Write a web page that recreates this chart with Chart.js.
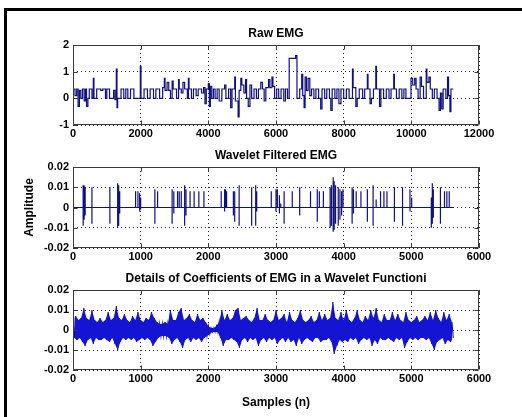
<!DOCTYPE html>
<html>
<head>
<meta charset="utf-8">
<script src="https://cdn.jsdelivr.net/npm/chart.js@4/dist/chart.umd.min.js"></script>
<style>
  html, body { margin: 0; padding: 0; background: #fff; }
  #page  { position: relative; width: 522px; height: 417px; overflow: hidden; background: #fff; }
  #frame { position: absolute; left: 4px; top: 8px; width: 600px; height: 500px;
           border-top: 3px solid #000; border-left: 3px solid #000; }
  .panel { position: absolute; left: 0; width: 522px; }
</style>
</head>
<body>
<div id="page">
  <div id="frame"></div>
  <div class="panel" style="top:22px;height:121px"><canvas id="raw" width="522" height="121"></canvas></div>
  <div class="panel" style="top:144px;height:122px"><canvas id="filt" width="522" height="122"></canvas></div>
  <div class="panel" style="top:267px;height:145px"><canvas id="det" width="522" height="145"></canvas></div>
</div>
<script>
// Raw EMG: [sample, value], value held until the next sample
const rawEmg = [
  [0,0.35],[60,0.1],[110,0.35],[150,-0.3],[190,0.3],[230,0],[280,0.35],[330,-0.1],[370,0.35],[400,-0.3],
  [440,0],[480,0.35],[560,0],[600,0.75],[620,0],[700,0.35],[820,0.3],[880,0.35],[960,0],[1000,0.35],
  [1080,0],[1200,0.3],[1240,-0.05],[1280,1.1],[1300,-0.35],[1320,0],[1420,0.35],[1500,0],[1560,0.35],[1620,0],
  [1700,0.35],[1800,0],[1990,1.2],[2010,0],[2100,0.35],[2200,0],[2280,0.35],[2380,0],[2450,0.35],[2560,0],
  [2650,0.4],[2700,0.75],[2720,0.3],[2780,0.6],[2830,0.3],[2880,0],[2930,0.65],[2960,0.35],[3060,0],[3120,0.7],
  [3140,0.35],[3200,0.2],[3250,0.6],[3300,0.35],[3380,0],[3410,0.75],[3430,0.35],[3500,0],[3560,0.35],[3640,0.1],
  [3700,0.35],[3800,0.2],[3860,0.4],[3900,-0.2],[3940,0.35],[4000,0.55],[4030,-0.3],[4060,0.45],[4100,0],[4150,0.35],
  [4200,0],[4260,0.35],[4320,-0.1],[4400,0.35],[4480,0.5],[4520,0],[4600,0.35],[4660,-0.35],[4700,0.35],[4780,0.8],
  [4800,-0.1],[4880,-0.7],[4910,0.3],[4960,0.75],[4990,0.5],[5050,0.2],[5100,0.7],[5130,0],[5180,-0.3],[5230,0.5],
  [5280,0],[5350,0.35],[5420,0],[5480,0.35],[5550,0.6],[5600,0.35],[5650,-0.1],[5700,0.4],[5780,0.7],[5820,0.4],
  [5880,0.8],[5910,0.45],[5960,0],[6020,0.35],[6080,0],[6150,0.35],[6230,-0.1],[6280,0.35],[6340,0],[6390,1.5],
  [6560,1.5],[6580,1.6],[6620,0],[6700,0.35],[6760,0.9],[6790,0.1],[6830,-0.35],[6860,0.8],[6900,0.3],[6950,0.75],
  [7000,0.1],[7050,0.35],[7120,0],[7180,0.35],[7260,0],[7320,-0.4],[7360,0.35],[7440,0],[7500,0.35],[7580,0],
  [7620,-0.45],[7660,0.35],[7740,0],[7800,0.35],[7860,-0.2],[7920,0.35],[8000,0],[8080,0.35],[8160,0],[8260,1.1],
  [8280,0.4],[8360,-0.3],[8400,0],[8460,0.35],[8560,0],[8620,0.35],[8700,0.9],[8720,0.35],[8780,-0.2],[8820,0],
  [8880,0.35],[8950,1.2],[8970,0.35],[9060,-0.3],[9100,0.35],[9180,0],[9260,0.35],[9340,0],[9400,0.35],[9480,0.9],
  [9500,0.35],[9560,0],[9640,0.35],[9720,0],[9780,0.35],[9840,0],[9990,0.75],[10040,0.5],[10100,0.75],[10140,0.35],
  [10200,0],[10260,0.8],[10300,0.45],[10360,0],[10440,1.1],[10460,0.6],[10520,0.8],[10560,0.35],[10620,0],[10680,0.35],
  [10760,0],[10820,-0.45],[10860,0.2],[10900,-0.4],[10940,0.35],[11020,0],[11070,0.8],[11100,0.1],[11140,-0.5],[11170,0.35],
  [11240,0.35]
];

// Wavelet filtered EMG: spike sample positions with their peak and trough
const filtLength = 5620;
const filtAt = [150,165,180,280,545,660,675,690,925,960,985,1000,1210,1250,1465,1490,1545,1570,1600,1650,
  1670,1730,1790,1860,1935,2190,2240,2255,2270,2370,2390,2455,2640,2700,2715,2930,3000,3020,3050,3070,
  3120,3240,3350,3510,3610,3640,3700,3800,3820,3845,3860,3880,3920,3945,3970,3990,4125,4145,4185,4255,
  4350,4435,4480,4545,4595,4640,4750,4870,4980,5005,5295,5310,5325,5430,5490,5525,5560];
const filtUp = [0.011,0.011,0.01,0.01,0.01,0.012,0.011,0.008,0.008,0.008,
  0.007,0.005,0.009,0.008,0.009,0.008,0.008,0.008,0.008,0.011,
  0.009,0.008,0.008,0.008,0.008,0.008,0.009,0.009,0.008,0.008,
  0.008,0.011,0.01,0.011,0.008,0.008,0.009,0.009,0.006,0.002,
  0.008,0.008,0.01,0.008,0.009,0.008,0.008,0.01,0.011,0.015,
  0.013,0.011,0.01,0.009,0.008,0.009,0.01,0.009,0.008,0.008,
  0.009,0.011,0.004,0.008,0.008,0.008,0.01,0.01,0.009,0.005,
  0.005,0.012,0.009,0.01,0.008,0.008,0.008];
const filtDn = [-0.009,-0.006,-0.004,-0.008,-0.008,-0.01,-0.009,-0.003,0,0,
  -0.002,-0.001,-0.008,0,-0.008,-0.003,0,0,0,-0.009,
  -0.004,0,0,0,0,0,-0.002,0,0,-0.004,
  -0.007,-0.009,-0.009,-0.009,-0.002,0,-0.002,0,-0.003,0,
  -0.008,0,-0.004,0,-0.007,0,0,-0.01,-0.009,-0.012,
  -0.011,-0.008,-0.009,-0.006,-0.004,0,-0.008,-0.003,0,0,
  -0.007,-0.009,0,0,0,0,-0.007,-0.009,-0.002,0,
  -0.01,-0.008,-0.005,-0.008,0,0,0];

// Detail coefficients: local max / min (x 1e-3) every 40 samples
const detStep = 40;
const detHiMilli = [
  5,7,5,6,11,6,5,10,5,4,   6,4,5,9,5,6,12,6,5,8,    5,4,7,5,9,5,4,6,5,9,
  6,4,3,3,4,3,10,5,5,9,    11,5,6,8,5,4,8,5,6,4,    2,1,1,2,4,10,5,8,5,6,
  10,11,5,6,7,5,4,6,11,5,  5,8,5,4,5,10,5,6,8,4,    9,5,4,6,10,5,4,5,7,4,
  5,9,5,8,5,6,14,6,5,9,    5,10,5,4,6,10,5,4,7,5,   10,6,11,5,4,8,5,5,9,5,
  8,5,4,9,5,4,5,7,4,5,     7,5,9,5,10,6,4,9,5,8,    4];
const detLoMilli = [
  -4,-5,-4,-6,-8,-5,-4,-7,-4,-5,   -5,-4,-5,-6,-4,-7,-10,-6,-4,-5,  -4,-5,-4,-6,-5,-4,-5,-4,-5,-8,
  -6,-4,-3,-3,-3,-4,-7,-5,-4,-6,   -9,-5,-4,-6,-4,-5,-4,-6,-4,-3,   -2,-1,-1,-1,-4,-8,-5,-5,-4,-5,
  -6,-9,-5,-4,-6,-4,-5,-4,-8,-5,   -4,-6,-4,-5,-4,-7,-5,-4,-6,-4,   -6,-5,-8,-4,-7,-5,-4,-5,-6,-4,
  -4,-6,-5,-5,-4,-6,-12,-8,-5,-6,  -5,-6,-4,-5,-4,-7,-5,-4,-5,-4,   -8,-5,-7,-4,-5,-5,-4,-5,-6,-4,
  -5,-4,-9,-6,-4,-5,-4,-5,-4,-4,   -5,-4,-7,-10,-6,-5,-4,-7,-5,-6,  -4];

const FONT = 'Liberation Sans, Arial, sans-serif';
Chart.defaults.font.family = FONT;
Chart.defaults.color = '#000';

// MATLAB style box with inward ticks on all four sides
const boxPlugin = {
  id: 'mbox',
  afterDatasetsDraw(chart) {
    const { ctx, chartArea: a, scales: { x, y } } = chart;
    const L = Math.round(a.left) + 0.5, R = Math.round(a.right) - 0.5;
    const T = Math.round(a.top) + 0.5, B = Math.round(a.bottom) - 0.5;
    ctx.save();
    ctx.strokeStyle = '#3a3a3a';
    ctx.lineWidth = 1;
    ctx.beginPath();
    ctx.rect(L, T, R - L, B - T);
    for (const t of x.ticks) {
      const px = Math.round(x.getPixelForValue(t.value)) + 0.5;
      ctx.moveTo(px, B); ctx.lineTo(px, B - 4);
      ctx.moveTo(px, T); ctx.lineTo(px, T + 4);
    }
    for (const t of y.ticks) {
      const py = Math.round(y.getPixelForValue(t.value)) + 0.5;
      ctx.moveTo(L, py); ctx.lineTo(L + 4, py);
      ctx.moveTo(R, py); ctx.lineTo(R - 4, py);
    }
    ctx.stroke();
    ctx.restore();
  }
};

function panelOptions(o) {
  const tickFont = { size: 11, weight: 'bold' };
  const titleFont = { size: 12, weight: 'bold', lineHeight: 1.25 };
  return {
    responsive: false,
    animation: false,
    events: [],
    layout: { padding: { top: 4, right: 43, bottom: 0, left: 0 } },
    plugins: {
      legend: { display: false },
      tooltip: { enabled: false },
      title: { display: true, text: o.title, fullSize: false, font: titleFont,
               color: '#000', padding: { top: 0, bottom: 4 } },
    },
    scales: {
      x: {
        type: 'linear', min: 0, max: o.xMax,
        ticks: { stepSize: o.xStep, font: tickFont, color: '#000', padding: 2,
                 maxRotation: 0, autoSkip: false, callback: v => String(v) },
        grid: { color: '#2a2a2a', lineWidth: 1, drawTicks: false },
        border: { display: false, dash: [1, 3] },
        title: o.xTitle ? { display: true, text: o.xTitle, font: titleFont, color: '#000',
                            padding: { top: 0, bottom: 1.5 } } : { display: false },
        afterFit: s => { s.height = o.xAxisH; },
      },
      y: {
        min: o.yMin, max: o.yMax,
        ticks: { stepSize: o.yStep, font: tickFont, color: '#000', padding: 4,
                 callback: v => String(Math.round(v * 100) / 100) },
        grid: { color: '#2a2a2a', lineWidth: 1, drawTicks: false },
        border: { display: false, dash: [1, 3] },
        title: o.yTitle ? { display: true, text: o.yTitle, font: titleFont, color: '#000',
                            padding: { top: 22.5, bottom: 0 } } : { display: false },
        afterFit: s => { s.width = 73; },
      },
    },
  };
}

const lineStyle = (color, width) => ({
  borderColor: color, borderWidth: width, pointRadius: 0, fill: false, tension: 0,
});

// Raw EMG
new Chart(document.getElementById('raw'), {
  type: 'line',
  data: { datasets: [{
    ...lineStyle('#10107e', 1.2), stepped: true,
    data: rawEmg.map(([s, v]) => ({ x: s, y: v })),
  }] },
  options: panelOptions({ title: 'Raw EMG', xMax: 12000, xStep: 2000,
                          yMin: -1, yMax: 2, yStep: 1, xAxisH: 18 }),
  plugins: [boxPlugin],
});

// Wavelet filtered EMG
const filtPoints = [{ x: 0, y: 0 }];
filtAt.forEach((s, i) => {
  filtPoints.push({ x: s, y: 0 }, { x: s, y: filtUp[i] }, { x: s, y: filtDn[i] }, { x: s, y: 0 });
});
filtPoints.push({ x: filtLength, y: 0 });

new Chart(document.getElementById('filt'), {
  type: 'line',
  data: { datasets: [{ ...lineStyle('#10107e', 1.2), data: filtPoints }] },
  options: panelOptions({ title: 'Wavelet Filtered EMG', xMax: 6000, xStep: 1000,
                          yMin: -0.02, yMax: 0.02, yStep: 0.01, yTitle: 'Amplitude', xAxisH: 18 }),
  plugins: [boxPlugin],
});

// Details of coefficients: solid core between envelopes, zigzag trace on top
const detUpper = detHiMilli.map((h, i) => ({ x: i * detStep, y: h / 1000 }));
const detLower = detLoMilli.map((l, i) => ({ x: i * detStep + detStep / 2, y: l / 1000 }));
const detTrace = [];
detHiMilli.forEach((h, i) => { detTrace.push(detUpper[i], detLower[i]); });

new Chart(document.getElementById('det'), {
  type: 'line',
  data: { datasets: [
    { ...lineStyle('rgba(0,0,0,0)', 0), data: detUpper },
    { ...lineStyle('rgba(0,0,0,0)', 0), data: detLower, fill: '-1', backgroundColor: '#1414d2' },
    { ...lineStyle('#0c0cb4', 1.1), data: detTrace },
  ] },
  options: panelOptions({ title: 'Details of Coefficients of EMG in a Wavelet Functioni', xMax: 6000, xStep: 1000,
                          yMin: -0.02, yMax: 0.02, yStep: 0.01, xTitle: 'Samples (n)', xAxisH: 42 }),
  plugins: [boxPlugin],
});
</script>
</body>
</html>
